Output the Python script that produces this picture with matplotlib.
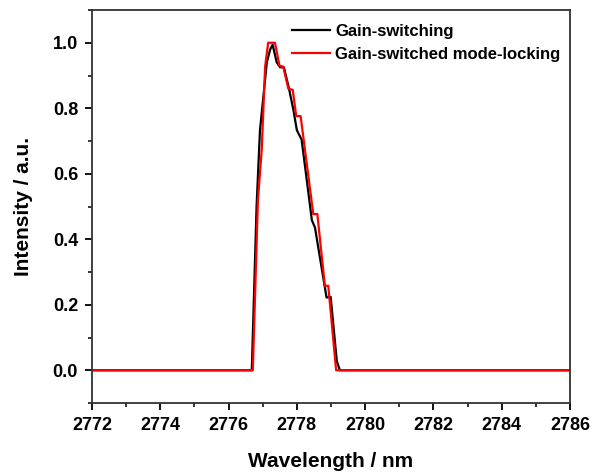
import numpy as np
import matplotlib
matplotlib.use("Agg")
import matplotlib.pyplot as plt
from matplotlib.ticker import MultipleLocator

plt.rcParams['font.family'] = ['Liberation Sans', 'DejaVu Sans']
plt.rcParams['font.weight'] = 'bold'

# spectra
wl_gs = [2772.0, 2776.68, 2776.82, 2776.92, 2777.12, 2777.22, 2777.29, 2777.41,
         2777.51, 2777.62, 2777.77, 2777.90, 2778.00, 2778.14, 2778.44, 2778.53,
         2778.87, 2778.99, 2779.17, 2779.26, 2786.0]
int_gs = [0.0, 0.0, 0.50, 0.733, 0.94, 0.98, 0.994, 0.94,
          0.925, 0.925, 0.86, 0.794, 0.733, 0.704, 0.458, 0.436,
          0.222, 0.224, 0.028, 0.0, 0.0]

wl_gsml = [2772.0, 2776.71, 2776.86, 2776.97, 2777.07, 2777.16, 2777.36, 2777.49,
           2777.60, 2777.75, 2777.88, 2777.98, 2778.11, 2778.48, 2778.60, 2778.82,
           2778.92, 2779.15, 2786.0]
int_gsml = [0.0, 0.0, 0.52, 0.672, 0.927, 1.0, 1.0, 0.93,
            0.927, 0.86, 0.856, 0.776, 0.776, 0.477, 0.477, 0.258,
            0.258, 0.0, 0.0]

fig = plt.figure(figsize=(5.92, 4.74), dpi=100)
ax = fig.add_axes([92 / 592, 1 - 403 / 474, 478 / 592, 393 / 474])

ax.plot(wl_gs, int_gs, color='black', lw=1.6, label='Gain-switching')
ax.plot(wl_gsml, int_gsml, color='red', lw=1.6, label='Gain-switched mode-locking')

ax.set_xlim(2772, 2786)
ax.set_ylim(-0.1, 1.1)
ax.xaxis.set_major_locator(MultipleLocator(2))
ax.xaxis.set_minor_locator(MultipleLocator(1))
ax.yaxis.set_minor_locator(MultipleLocator(0.1))
ax.set_yticks(np.arange(0, 1.01, 0.2))
ax.set_yticklabels([f"{v:.1f}" for v in np.arange(0, 1.01, 0.2)])

ax.tick_params(which='major', direction='out', length=5, width=1.3, labelsize=13)
ax.tick_params(axis='x', pad=5)
ax.tick_params(axis='y', pad=5)
ax.tick_params(which='minor', direction='out', length=3, width=1.1)
ax.tick_params(top=False, right=False, which='both')
for s in ax.spines.values():
    s.set_linewidth(1.3)
    s.set_color('#333333')

ax.set_xlabel('Wavelength / nm', fontsize=15, fontweight='bold', labelpad=13)
ax.set_ylabel('Intensity / a.u.', fontsize=15, fontweight='bold', labelpad=14)

ax.legend(loc='upper left', bbox_to_anchor=((292 - 92) / 478, (403 - 24) / 393),
          frameon=False, fontsize=12, borderpad=0, borderaxespad=0,
          handlelength=2.3, handletextpad=0.3, labelspacing=0.45)

fig.savefig('out.png', dpi=100)
